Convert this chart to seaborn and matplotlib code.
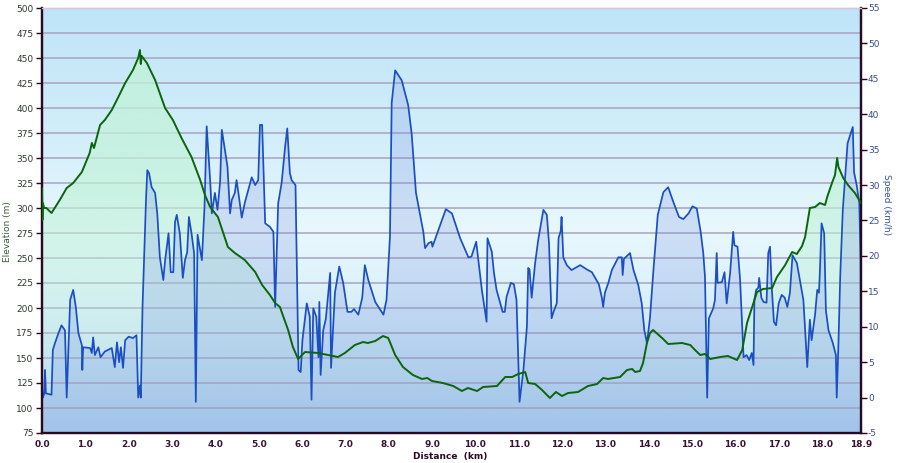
import numpy as np
import pandas as pd
import matplotlib
matplotlib.use("Agg")
import matplotlib.pyplot as plt
from matplotlib.colors import LinearSegmentedColormap, to_rgba
import seaborn as sns

# ---------------- data ----------------
dist_elev = [0.00, 0.01, 0.02, 0.05, 0.10, 0.22, 0.41, 0.57, 0.72, 0.92,
             1.10, 1.15, 1.20, 1.34, 1.45, 1.61, 1.75, 1.92, 2.10, 2.22,
             2.26, 2.28, 2.30, 2.42, 2.61, 2.84, 3.02, 3.22, 3.45, 3.65,
             3.76, 3.88, 4.06, 4.29, 4.45, 4.68, 4.92, 5.08, 5.26, 5.38,
             5.49, 5.68, 5.79, 5.91, 6.07, 6.37, 6.60, 6.83, 6.99, 7.22,
             7.41, 7.52, 7.69, 7.87, 7.99, 8.15, 8.33, 8.56, 8.77, 8.89,
             9.00, 9.25, 9.49, 9.69, 9.83, 10.04, 10.18, 10.50, 10.69, 10.85,
             10.99, 11.15, 11.22, 11.38, 11.54, 11.72, 11.86, 12.00, 12.14, 12.37,
             12.60, 12.81, 12.95, 13.06, 13.34, 13.50, 13.62, 13.69, 13.80, 13.87,
             13.96, 14.03, 14.10, 14.31, 14.45, 14.77, 14.96, 15.07, 15.19, 15.30,
             15.42, 15.65, 15.83, 16.04, 16.16, 16.27, 16.39, 16.50, 16.64, 16.85,
             16.96, 17.15, 17.31, 17.42, 17.54, 17.61, 17.72, 17.84, 17.95, 18.07,
             18.12, 18.23, 18.30, 18.35, 18.38, 18.49, 18.60, 18.76, 18.90]
elevation_m = [320, 288, 305, 300, 300, 295, 308, 320, 325, 336,
               355, 365, 360, 383, 388, 398, 410, 425, 438, 450,
               458, 444, 452, 445, 428, 400, 388, 370, 351, 328,
               313, 301, 291, 261, 255, 248, 236, 223, 213, 205,
               201, 178, 161, 149, 156, 155, 153, 151, 155, 163,
               166, 165, 167, 172, 170, 153, 141, 133, 129, 130,
               127, 125, 122, 117, 120, 117, 121, 122, 131, 131,
               134, 136, 125, 124, 118, 110, 116, 112, 115, 116,
               122, 124, 130, 129, 131, 138, 139, 136, 137, 145,
               165, 175, 178, 170, 164, 165, 163, 158, 153, 154,
               149, 151, 152, 148, 158, 185, 201, 216, 219, 220,
               231, 243, 256, 254, 262, 271, 300, 301, 305, 303,
               311, 325, 333, 350, 341, 330, 323, 315, 305]

dist_speed = [0.00, 0.02, 0.05, 0.07, 0.09, 0.22, 0.25, 0.30, 0.38, 0.45,
              0.53, 0.57, 0.65, 0.72, 0.78, 0.84, 0.92, 0.93, 0.95, 1.11,
              1.15, 1.18, 1.22, 1.30, 1.35, 1.45, 1.61, 1.68, 1.73, 1.78,
              1.82, 1.87, 1.92, 2.00, 2.10, 2.18, 2.22, 2.26, 2.28, 2.32,
              2.40, 2.43, 2.47, 2.53, 2.61, 2.66, 2.72, 2.80, 2.84, 2.92,
              2.97, 3.03, 3.07, 3.11, 3.18, 3.25, 3.30, 3.35, 3.39, 3.45,
              3.51, 3.55, 3.59, 3.69, 3.75, 3.80, 3.88, 3.92, 3.99, 4.05,
              4.11, 4.15, 4.22, 4.28, 4.34, 4.38, 4.45, 4.49, 4.53, 4.61,
              4.68, 4.84, 4.92, 4.99, 5.03, 5.08, 5.15, 5.26, 5.34, 5.38,
              5.45, 5.53, 5.61, 5.66, 5.72, 5.76, 5.85, 5.92, 5.97, 6.01,
              6.11, 6.18, 6.22, 6.26, 6.33, 6.38, 6.40, 6.43, 6.49, 6.55,
              6.65, 6.67, 6.76, 6.86, 6.95, 7.05, 7.14, 7.20, 7.30, 7.39,
              7.45, 7.53, 7.69, 7.88, 7.95, 8.03, 8.07, 8.15, 8.30, 8.45,
              8.53, 8.63, 8.80, 8.84, 8.92, 8.99, 9.01, 9.32, 9.46, 9.65,
              9.84, 9.91, 10.02, 10.15, 10.26, 10.28, 10.38, 10.43, 10.49, 10.63,
              10.68, 10.72, 10.82, 10.89, 10.95, 11.02, 11.11, 11.19, 11.22, 11.25,
              11.30, 11.38, 11.45, 11.57, 11.65, 11.70, 11.76, 11.81, 11.88, 11.92,
              11.97, 11.99, 12.03, 12.11, 12.22, 12.42, 12.57, 12.69, 12.85, 12.92,
              12.95, 12.99, 13.07, 13.15, 13.30, 13.38, 13.40, 13.43, 13.57, 13.65,
              13.76, 13.84, 13.90, 13.96, 14.03, 14.11, 14.21, 14.34, 14.45, 14.57,
              14.70, 14.80, 14.92, 15.01, 15.11, 15.20, 15.26, 15.30, 15.35, 15.39,
              15.49, 15.53, 15.57, 15.59, 15.69, 15.75, 15.80, 15.88, 15.95, 15.98,
              16.05, 16.11, 16.19, 16.26, 16.32, 16.38, 16.42, 16.44, 16.48, 16.53,
              16.55, 16.60, 16.65, 16.72, 16.76, 16.80, 16.84, 16.89, 16.94, 17.00,
              17.07, 17.14, 17.20, 17.26, 17.32, 17.42, 17.49, 17.57, 17.61, 17.66,
              17.72, 17.76, 17.84, 17.89, 17.93, 17.95, 17.99, 18.05, 18.09, 18.15,
              18.25, 18.32, 18.34, 18.38, 18.42, 18.48, 18.59, 18.71, 18.74, 18.80,
              18.86, 18.89, 18.90]
speed_kmh = [1.5, 0.0, 0.5, 3.9, 0.6, 0.4, 6.7, 7.7, 9.1, 10.2,
             9.5, 0.0, 13.8, 15.2, 12.8, 9.1, 7.4, 3.9, 7.1, 7.0,
             6.3, 8.5, 6.0, 7.1, 5.7, 6.5, 7.0, 4.3, 7.8, 5.0,
             7.1, 4.2, 8.1, 8.6, 8.4, 8.8, 0.0, 1.7, 0.0, 12.8,
             27.9, 32.1, 31.7, 29.7, 28.9, 26.0, 19.8, 16.6, 19.3, 23.2,
             17.7, 17.7, 24.8, 25.8, 23.2, 16.9, 19.4, 20.5, 25.5, 23.2,
             20.4, -0.6, 23.0, 19.4, 26.9, 38.3, 30.7, 26.0, 28.9, 26.5,
             30.4, 37.8, 35.0, 32.6, 26.0, 27.9, 28.9, 30.7, 29.0, 25.4,
             27.5, 31.1, 30.0, 30.7, 38.5, 38.5, 24.6, 24.1, 23.4, 12.8,
             27.4, 30.3, 35.4, 38.0, 31.7, 30.7, 30.0, 3.9, 3.6, 8.1,
             13.3, 11.4, -0.3, 12.6, 11.4, 5.7, 13.5, 3.2, 9.5, 11.1,
             17.6, 4.2, 14.8, 18.5, 16.2, 12.1, 12.1, 12.5, 11.7, 14.1,
             18.7, 16.6, 13.5, 11.7, 13.8, 22.7, 41.6, 46.2, 44.8, 41.3,
             37.3, 28.9, 23.4, 21.1, 21.8, 22.0, 21.3, 26.6, 26.0, 22.5,
             19.8, 19.9, 22.0, 15.2, 10.7, 22.5, 20.6, 17.6, 15.2, 12.1,
             12.1, 14.2, 16.2, 16.0, 13.8, -0.6, 3.9, 10.0, 18.3, 18.1,
             14.1, 19.0, 22.2, 26.5, 25.8, 21.8, 11.2, 12.2, 13.3, 22.5,
             23.5, 25.5, 19.8, 18.7, 18.0, 18.7, 18.1, 17.7, 16.0, 14.1,
             12.8, 14.8, 16.2, 18.0, 19.8, 19.8, 17.3, 19.6, 20.4, 18.0,
             15.9, 13.3, 9.5, 7.7, 11.2, 18.0, 25.8, 29.0, 29.7, 27.6,
             25.5, 25.2, 26.0, 27.0, 26.7, 23.4, 20.4, 17.0, 0.0, 11.2,
             12.6, 13.8, 20.4, 16.2, 16.3, 17.7, 13.3, 17.6, 23.4, 21.5,
             21.3, 16.6, 5.7, 6.0, 5.3, 6.3, 4.6, 13.8, 15.2, 15.5,
             16.9, 14.1, 13.5, 13.4, 20.4, 21.3, 15.6, 10.7, 10.2, 13.3,
             14.5, 14.1, 12.8, 14.8, 20.1, 19.0, 16.6, 13.8, 9.5, 4.3,
             11.0, 8.1, 11.7, 15.2, 14.8, 17.6, 24.6, 23.2, 12.3, 9.5,
             7.7, 6.0, 0.0, 7.7, 17.0, 26.5, 35.9, 38.2, 31.8, 30.0,
             27.5, 19.4, 5.0]

x_ticks = [0, 1, 2, 3, 4, 5, 6, 7, 8, 9, 10, 11, 12, 13, 14, 15, 16, 17, 18, 18.9]
x_tick_labels = ["0.0", "1.0", "2.0", "3.0", "4.0", "5.0", "6.0", "7.0", "8.0", "9.0",
                 "10.0", "11.0", "12.0", "13.0", "14.0", "15.0", "16.0", "17.0", "18.0", "18.9"]
elev_ticks = list(range(75, 501, 25))
speed_ticks = list(range(-5, 56, 5))

df_elev = pd.DataFrame({"dist": dist_elev, "elev": elevation_m})
df_speed = pd.DataFrame({"dist": dist_speed, "speed": speed_kmh})

# ---------------- figure ----------------
sns.set_theme(style="white")
plt.rcParams["font.family"] = ["DejaVu Sans"]

fig = plt.figure(figsize=(9.0, 4.63), dpi=100)
ax = fig.add_axes([42/900, 1-433/463, (861-42)/900, (433-8)/463])
ax2 = ax.twinx()

XMIN, XMAX = 0, 18.9
EMIN, EMAX = 75, 500
SMIN, SMAX = -5, 55

# background gradient
bg_cmap = LinearSegmentedColormap.from_list("bg", [
    (0.00, "#bfe4f8"), (0.30, "#d2eefa"), (0.52, "#e8f8fd"),
    (0.66, "#ddf2fa"), (0.82, "#c8e5f5"), (1.00, "#b0d5ef")])
grad = np.linspace(0, 1, 256).reshape(-1, 1)
ax.imshow(bg_cmap(grad), extent=[XMIN, XMAX, EMIN, EMAX], aspect="auto",
          origin="upper", zorder=0)

# elevation gradient fill (mint green fading toward bottom)
green = np.array(to_rgba("#c2f2da"))
g = np.tile(green, (256, 1))
alpha = np.interp(np.linspace(0, 1, 256), [0, 0.45, 0.75, 1.0], [0.8, 0.7, 0.25, 0.0])
g[:, 3] = alpha
poly = ax.fill_between(df_elev["dist"], df_elev["elev"], EMIN,
                       facecolor="none", edgecolor="none")
im = ax.imshow(g.reshape(256, 1, 4), extent=[XMIN, XMAX, EMIN, EMAX],
               aspect="auto", origin="upper", zorder=1)
im.set_clip_path(poly.get_paths()[0], transform=ax.transData)

# grid
ax.set_yticks(elev_ticks)
ax.yaxis.grid(True, color="#aba6bf", linewidth=1.15, zorder=1.5)
ax.xaxis.grid(False)

# speed fill + line
ax2.fill_between(df_speed["dist"], df_speed["speed"], SMIN,
                 color="#7088dc", alpha=0.22, linewidth=0, zorder=1)
sns.lineplot(data=df_speed, x="dist", y="speed", ax=ax2, color="#1a4fc4",
             linewidth=1.25, estimator=None, sort=False, zorder=2)

# elevation line on top (in elevation coordinates)
sns.lineplot(data=df_elev, x="dist", y="elev", ax=ax2, color="#0b650b",
             linewidth=1.4, estimator=None, sort=False, zorder=3,
             transform=ax.transData)

# limits & ticks
ax.set_xlim(XMIN, XMAX)
ax.set_ylim(EMIN, EMAX)
ax2.set_xlim(XMIN, XMAX)
ax2.set_ylim(SMIN, SMAX)
ax.set_xticks(x_ticks)
ax.set_xticklabels(x_tick_labels, fontsize=6.5, fontweight="bold", color="#3a1232")
ax.set_yticklabels([str(t) for t in elev_ticks], fontsize=6.5, color="#2c3a2c")
ax2.set_yticks(speed_ticks)
ax2.set_yticklabels([str(t) for t in speed_ticks], fontsize=6.5, color="#3b4b8c")
ax2.grid(False)

ax.tick_params(axis="x", direction="out", length=3, width=1, color="#300020", pad=2)
ax.tick_params(axis="y", direction="out", length=4, width=1, color="#300020", pad=2)
ax2.tick_params(axis="y", direction="out", length=4, width=1, color="#300020", pad=1)

for a in (ax, ax2):
    a.set_xlabel("")
    a.set_ylabel("")
    for side in ("left", "right", "bottom"):
        a.spines[side].set_color("#2a0a22")
        a.spines[side].set_linewidth(1.6)
    a.spines["top"].set_color("#d9c6d6")
    a.spines["top"].set_linewidth(1.0)

fig.text(8/900, 1-232/463, "Elevation (m)", rotation=90, ha="center", va="center",
         fontsize=6.5, color="#3d5a3d")
fig.text(886/900, 1-205/463, "Speed (km/h)", rotation=270, ha="center", va="center",
         fontsize=6.5, color="#3452a2")
fig.text(450/900, 1-456/463, "Distance  (km)", ha="center", va="center",
         fontsize=6.5, fontweight="bold", color="#2a0a22")

fig.savefig("out.png", dpi=100)
